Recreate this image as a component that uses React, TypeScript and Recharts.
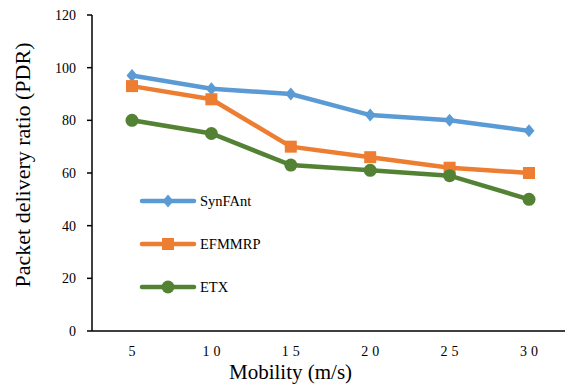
import React from "react";
import { LineChart, Line, XAxis, YAxis } from "recharts";

const speeds = ["5", "10", "15", "20", "25", "30"];
const synFAnt = [97, 92, 90, 82, 80, 76];
const efmmrp = [93, 88, 70, 66, 62, 60];
const etx = [80, 75, 63, 61, 59, 50];
const yTicks = [0, 20, 40, 60, 80, 100, 120];

const series = [
  { key: "SynFAnt", color: "#5B9BD5", shape: "diamond" },
  { key: "EFMMRP", color: "#ED7D31", shape: "square" },
  { key: "ETX", color: "#548235", shape: "circle" },
];

const data = speeds.map((s, i) => ({
  speed: s,
  SynFAnt: synFAnt[i],
  EFMMRP: efmmrp[i],
  ETX: etx[i],
}));

const FONT = "'Liberation Serif', serif";
const txt = (size: number) => ({ fontFamily: FONT, fontSize: size, fill: "#000" });

function marker(shape: string, color: string, cx: number, cy: number, key?: string) {
  if (shape === "diamond")
    return <path key={key} d={`M${cx},${cy - 6.5}L${cx + 5.5},${cy}L${cx},${cy + 6.5}L${cx - 5.5},${cy}Z`} fill={color} />;
  if (shape === "square")
    return <rect key={key} x={cx - 6} y={cy - 6} width={12} height={12} fill={color} />;
  return <circle key={key} cx={cx} cy={cy} r={6.5} fill={color} />;
}

function makeDot(shape: string, color: string) {
  return (props: any) => marker(shape, color, props.cx, props.cy, `${shape}-${props.index}`);
}

function XTick({ x, y, payload }: any) {
  return (
    <text x={x + 2} y={y} dy={23} textAnchor="middle" style={{ ...txt(14), letterSpacing: 4 }}>
      {payload.value}
    </text>
  );
}

function YTick({ x, y, payload }: any) {
  return (
    <text x={x} y={y} dy={5} textAnchor="end" style={txt(14)}>
      {payload.value}
    </text>
  );
}

function YLabel({ viewBox }: any) {
  const cx = 22;
  const cy = viewBox.y + viewBox.height / 2 - 8;
  return (
    <text
      x={cx}
      y={cy}
      transform={`rotate(-90 ${cx} ${cy})`}
      textAnchor="middle"
      dominantBaseline="central"
      style={txt(22)}
    >
      Packet delivery ratio (PDR)
    </text>
  );
}

function XLabel({ viewBox }: any) {
  const cx = viewBox.x + viewBox.width / 2 - 38;
  return (
    <text x={cx} y={379} textAnchor="middle" style={txt(21)}>
      Mobility (m/s)
    </text>
  );
}

// legend sits inside the plot, left side, stacked
function LegendBox() {
  return (
    <svg width={140} height={110} style={{ position: "absolute", left: 139, top: 195, overflow: "visible" }}>
      {series.map((s, i) => {
        const y = 6 + i * 43;
        return (
          <g key={s.key}>
            <line x1={3} x2={55} y1={y} y2={y} stroke={s.color} strokeWidth={4.5} strokeLinecap="round" />
            {marker(s.shape, s.color, 29, y)}
            <text x={61} y={y + 5} style={txt(14.5)}>
              {s.key}
            </text>
          </g>
        );
      })}
    </svg>
  );
}

export default function App() {
  return (
    <div style={{ position: "fixed", left: 0, top: 0, width: 565, height: 386, background: "#fff" }}>
      <style>{"svg text { font-family: 'Liberation Serif', 'Times New Roman', serif !important; }"}</style>
      <LineChart
        width={565}
        height={386}
        data={data}
        margin={{ top: 15, right: 0, bottom: 5, left: 32 }}
      >
        <XAxis
          dataKey="speed"
          padding={{ left: 40, right: 36 }}
          tickLine={false}
          tickSize={0}
          axisLine={{ stroke: "#000", strokeWidth: 1.5 }}
          tick={<XTick />}
          height={50}
          label={<XLabel />}
        />
        <YAxis
          domain={[0, 120]}
          ticks={yTicks}
          interval={0}
          width={60}
          tickSize={5}
          tickMargin={11}
          tickLine={{ stroke: "#000", strokeWidth: 1.5 }}
          axisLine={{ stroke: "#000", strokeWidth: 1.5 }}
          tick={<YTick />}
          label={<YLabel />}
        />
        {series.map((s) => (
          <Line
            key={s.key}
            type="linear"
            dataKey={s.key}
            stroke={s.color}
            strokeWidth={4.5}
            dot={makeDot(s.shape, s.color)}
            activeDot={false}
            isAnimationActive={false}
          />
        ))}
      </LineChart>
      <LegendBox />
    </div>
  );
}
